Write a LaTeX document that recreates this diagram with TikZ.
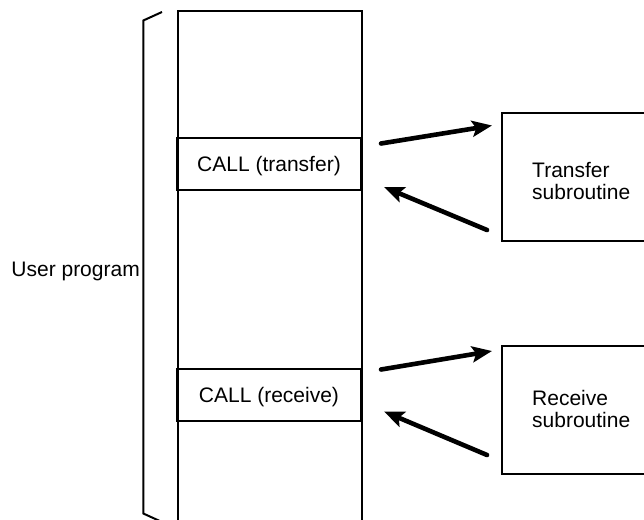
\documentclass[tikz,border=0pt]{standalone}
\usepackage{fontspec}
\setmainfont{Liberation Sans}
\usetikzlibrary{arrows.meta}

\tikzset{
  boxline/.style={draw=black, line width=2pt},
  callbox/.style={boxline, minimum width=184pt, minimum height=52pt, inner sep=0pt,
    text height=15pt, text depth=0pt, font=\fontsize{21}{22}\selectfont},
  subbox/.style={boxline, minimum width=170pt, minimum height=128pt, inner sep=0pt},
  sublabel/.style={anchor=west, align=left, inner sep=0pt,
    font=\fontsize{21}{22}\selectfont},
  flow/.style={line width=4.6pt, line cap=round,
    -{Stealth[length=20pt, width=16pt, inset=4pt]}},
}

\begin{document}
\begin{tikzpicture}[x=1pt, y=-1pt]
  \useasboundingbox (0,0) rectangle (644,519);
  \fill[white] (0,0) rectangle (644,519);
  \clip (0,0) rectangle (644,519);

  % program column
  \node[boxline, minimum width=184pt, minimum height=540pt, anchor=north west, inner sep=0pt]
    (column) at (177,10) {};
  \node[callbox] (callT) at (269,164) {CALL (transfer)};
  \node[callbox] (callR) at (269,394.5) {CALL (receive)};

  % brace around the user program
  \draw[line width=2pt, line join=miter]
    (162,12) -- (143.3,20.5) -- (143.3,513.5) -- (162,522);
  \node[anchor=east, inner sep=0pt, font=\fontsize{21}{22}\selectfont] (user)
    at (140,271) {User program};

  % subroutines
  \node[subbox, anchor=north west] (subT) at (501,112) {};
  \node[sublabel] (labT) at (532,181.5) {Transfer\\subroutine};
  \node[subbox, anchor=north west] (subR) at (501,345) {};
  \node[sublabel] (labR) at (532,409) {Receive\\subroutine};

  % call and return arrows
  \coordinate (tOut) at (381,143.5);
  \coordinate (tIn)  at (492,125.5);
  \coordinate (tBack) at (487,230);
  \coordinate (tRet) at (384,187);
  \coordinate (rOut) at (381,369.5);
  \coordinate (rIn)  at (492,351);
  \coordinate (rBack) at (487,455);
  \coordinate (rRet) at (384,411.5);
  \draw[flow] (tOut) -- (tIn);
  \draw[flow] (tBack) -- (tRet);
  \draw[flow] (rOut) -- (rIn);
  \draw[flow] (rBack) -- (rRet);
\end{tikzpicture}
\end{document}
